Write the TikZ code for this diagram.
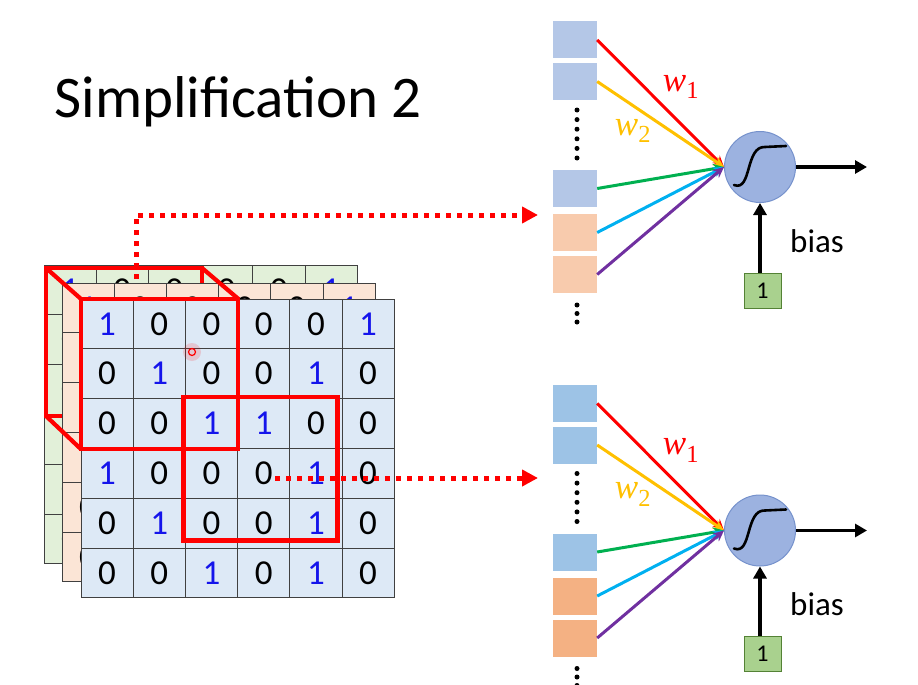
\documentclass[tikz,border=0pt]{standalone}
\usepackage{fontspec}
\setmainfont{Carlito}
\newfontfamily\wfont{Liberation Serif}
\usetikzlibrary{arrows.meta}

\definecolor{numblue}{RGB}{20,20,235}
\definecolor{gridline}{RGB}{64,64,64}
\definecolor{gridgreen}{RGB}{226,240,217}
\definecolor{gridorange}{RGB}{251,229,214}
\definecolor{gridblue}{RGB}{221,233,246}
\definecolor{inblue}{RGB}{180,199,231}
\definecolor{inorange}{RGB}{248,203,173}
\definecolor{inblueD}{RGB}{157,195,230}
\definecolor{inorangeD}{RGB}{244,177,131}
\definecolor{neuronfill}{RGB}{156,178,224}
\definecolor{neuronline}{RGB}{118,146,204}
\definecolor{onefill}{RGB}{169,209,142}
\definecolor{oneline}{RGB}{84,130,53}
\definecolor{wred}{RGB}{255,0,0}
\definecolor{wyel}{RGB}{255,192,0}
\definecolor{wgreen}{RGB}{0,176,80}
\definecolor{wcyan}{RGB}{0,176,240}
\definecolor{wpurple}{RGB}{112,48,160}

\tikzset{
  cell/.style={draw=gridline, line width=0.8pt, rectangle, inner sep=0pt,
    minimum width=52.2pt, minimum height=49.8pt, font=\fontsize{35}{36}\selectfont},
  redbox/.style={draw=wred, line width=4.2pt},
  dotarrow/.style={draw=wred, line width=5pt, dash pattern=on 5pt off 6pt,
    -{Triangle[length=16pt,width=16pt]}},
  inbox/.style={rectangle, inner sep=0pt, minimum width=44pt, minimum height=37pt},
  neuron/.style={circle, fill=neuronfill, draw=neuronline, line width=1pt,
    minimum size=71pt, inner sep=0pt},
  sigm/.style={line width=2.6pt, line cap=round},
  wire/.style={line width=3pt, -{Stealth[length=11pt,width=10pt]}},
  outarrow/.style={line width=3.4pt, -{Triangle[length=12pt,width=13pt]}},
  onebox/.style={rectangle, fill=onefill, draw=oneline, line width=0.6pt,
    minimum width=37pt, minimum height=35pt, font=\fontsize{24}{26}\selectfont},
  lbl/.style={font=\fontsize{33}{35}\selectfont},
  wlbl/.style={font=\wfont\fontsize{35}{37}\selectfont}
}

\newcommand{\celldigit}[1]{\ifnum#1=1 \textcolor{numblue}{1}\else 0\fi}
\newcommand{\wsub}[1]{\textit{w}\textsubscript{#1}}
% one 6x6 layer of the input image: x, y, fill, name prefix
\newcommand{\gridlayer}[4]{%
  \foreach \row [count=\r from 0] in {{1,0,0,0,0,1},{0,1,0,0,1,0},{0,0,1,1,0,0},%
      {1,0,0,0,1,0},{0,1,0,0,1,0},{0,0,1,0,1,0}}
    \foreach \v [count=\c from 0] in \row
      \node[cell, fill=#3] at ({#1+26.1+52.2*\c},{#2+24.9+49.8*\r}) (#4-\r-\c) {\celldigit{\v}};%
}

\begin{document}
\begin{tikzpicture}[x=1pt, y=-1pt]
  \useasboundingbox (0,0) rectangle (918,685);

  \node[anchor=base west, font=\fontsize{59}{60}\selectfont] at (51,117) (title) {Simplification 2};

  % back layers and the filter cube behind them
  \gridlayer{44}{265}{gridgreen}{g}
  \coordinate (kb1) at (46,268);
  \coordinate (kb2) at (202,268);
  \coordinate (kb3) at (46,416);
  \coordinate (kb4) at (202,416);
  \draw[redbox] (kb1) rectangle (kb4);
  \coordinate (dsrc1) at (136,290);
  \coordinate (dtip1) at (538,215);
  \draw[dotarrow] (dsrc1) |- (dtip1);
  \gridlayer{62}{283}{gridorange}{o}
  \gridlayer{81}{299}{gridblue}{f}

  \draw[redbox] (kb1) -- (f-0-0.north west);
  \draw[redbox] (kb2) -- (f-0-2.north east);
  \draw[redbox] (kb3) -- (f-2-0.south west);
  \draw[redbox] (f-0-0.north west) rectangle (f-2-2.south east);
  \draw[redbox] ([shift={(-1.5,-1.5)}]f-2-2.north west) rectangle ([shift={(-5,-8)}]f-4-4.south east);

  \coordinate (dsrc2) at (275,478);
  \coordinate (dtip2) at (538,478);
  \draw[dotarrow] (dsrc2) -- (dtip2);

  % pointer
  \fill[wred, opacity=0.15] (192,352) circle (9);
  \node[circle, draw=wred, line width=1.2pt, minimum size=7pt, inner sep=0pt] at (192,352) (laser) {};

  % the two neurons
  \foreach \dy/\bb/\bo/\p in {0/inblue/inorange/u, 363.5/inblueD/inorangeD/l} {
    \node[inbox, fill=\bb] at (575,{40+\dy}) (\p1) {};
    \node[inbox, fill=\bb] at (575,{81.5+\dy}) (\p2) {};
    \node[inbox, fill=\bb] at (575,{188.5+\dy}) (\p3) {};
    \node[inbox, fill=\bo] at (575,{232.5+\dy}) (\p4) {};
    \node[inbox, fill=\bo] at (575,{274.5+\dy}) (\p5) {};
    \foreach \k in {0,...,5}
      \fill (577,{110+9.6*\k+\dy}) circle (2.5);
    \foreach \k in {0,1,2}
      \fill (577,{305+8.5*\k+\dy}) circle (2.5);

    \node[neuron] at (760,{167+\dy}) (\p n) {};
    \draw[sigm] (\p n.center) ++(-26,18) .. controls +(18,7) and +(-20,-1) .. ++(31,-38) -- ++(21,-1);

    \foreach \i/\wc in {1/wred, 2/wyel, 3/wgreen, 4/wcyan, 5/wpurple}
      \draw[wire, \wc] (\p\i.east) -- (\p n.west);
    \node[wlbl, text=wred] at (681,{87+\dy}) (\p w1) {\wsub{1}};
    \node[wlbl, text=wyel] at (633,{131+\dy}) (\p w2) {\wsub{2}};

    \coordinate (\p o) at (867,{167+\dy});
    \draw[outarrow] (\p n) -- (\p o);
    \node[onebox] at (762.5,{290.5+\dy}) (\p b) {1};
    \draw[outarrow] (\p b.north -| \p n) -- (\p n.south);
    \node[lbl] at (817,{241+\dy}) (\p t) {bias};
  }
\end{tikzpicture}
\end{document}
